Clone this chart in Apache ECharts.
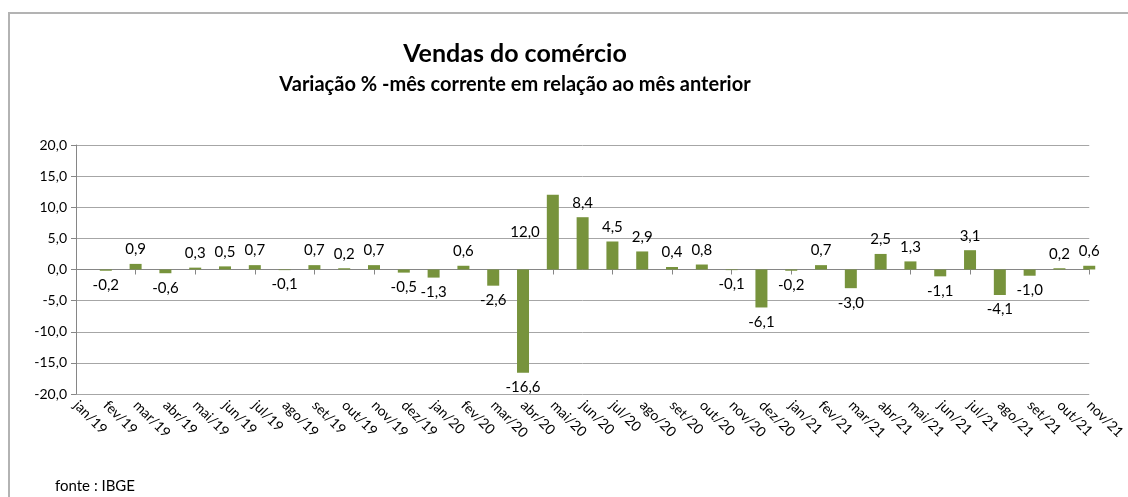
<!DOCTYPE html>
<html>
<head>
<meta charset="utf-8">
<script src="https://cdn.jsdelivr.net/npm/echarts@6/dist/echarts.min.js"></script>
<style>
  html, body { margin: 0; padding: 0; background: #fff; }
  #chart { width: 1128px; height: 497px; }
</style>
</head>
<body>
<div id="chart"></div>
<script>
// months on the x axis
const categories = [
  'jan/19', 'fev/19', 'mar/19', 'abr/19', 'mai/19', 'jun/19', 'jul/19', 'ago/19', 'set/19', 'out/19', 'nov/19', 'dez/19',
  'jan/20', 'fev/20', 'mar/20', 'abr/20', 'mai/20', 'jun/20', 'jul/20', 'ago/20', 'set/20', 'out/20', 'nov/20', 'dez/20',
  'jan/21', 'fev/21', 'mar/21', 'abr/21', 'mai/21', 'jun/21', 'jul/21', 'ago/21', 'set/21', 'out/21', 'nov/21'
]

// % change vs previous month (jan/19 not shown in the source)
const variacao = [
  null, -0.2, 0.9, -0.6, 0.3, 0.5, 0.7, -0.1, 0.7, 0.2, 0.7, -0.5,
  -1.3, 0.6, -2.6, -16.6, 12.0, 8.4, 4.5, 2.9, 0.4, 0.8, -0.1, -6.1,
  -0.2, 0.7, -3.0, 2.5, 1.3, -1.1, 3.1, -4.1, -1.0, 0.2, 0.6
]

// y axis range
const yMin = -20
const yMax = 20
const yStep = 5

const FONT = 'Lato, "Open Sans", sans-serif'
const fmt = (v) => v.toFixed(1).replace('.', ',')

const chart = echarts.init(document.getElementById('chart'))

const barData = variacao.map((v, i) => {
  if (v === null) return '-'
  let pos = v < 0 ? 'bottom' : 'top'
  // the big May/20 label sits beside the bar in the original
  if (categories[i] === 'mai/20') pos = 'left'
  return { value: v, label: { position: pos } }
})

const option = {
  animation: false,
  backgroundColor: '#fff',
  textStyle: { fontFamily: FONT },
  title: [
    {
      text: 'Vendas do comércio',
      left: 510,
      top: 36,
      textAlign: 'center',
      textStyle: { fontSize: 25, fontWeight: 'bold', color: '#000', fontFamily: FONT },
    },
    {
      text: 'Variação % -mês corrente em relação ao mês anterior',
      left: 510,
      top: 70,
      textAlign: 'center',
      textStyle: { fontSize: 20, fontWeight: 'bold', color: '#000', fontFamily: FONT },
    },
    {
      text: 'fonte : IBGE',
      left: 50,
      top: 474,
      textStyle: { fontSize: 15, fontWeight: 'normal', color: '#000', fontFamily: FONT },
    },
  ],
  graphic: [
    {
      type: 'polyline',
      silent: true,
      shape: { points: [[9, 497], [9, 13], [1128, 13]] },
      style: { stroke: '#b3b3b3', lineWidth: 2, fill: null },
    },
  ],
  grid: {
    left: 76,
    right: 31,
    top: 145,
    bottom: 103,
  },
  xAxis: [
    {
      type: 'category',
      data: categories,
      boundaryGap: false,
      position: 'bottom',
      axisLine: { onZero: true, lineStyle: { color: '#868686', width: 1 } },
      axisTick: { show: true, length: 5, lineStyle: { color: '#868686' } },
      axisLabel: { show: false },
      splitLine: { show: false },
    },
    {
      type: 'category',
      data: categories,
      boundaryGap: false,
      position: 'bottom',
      axisLine: { show: false },
      axisTick: { show: false },
      axisLabel: {
        interval: 0,
        rotate: -45,
        margin: 9,
        fontSize: 14,
        color: '#000',
        fontFamily: FONT,
      },
      splitLine: { show: false },
    },
  ],
  yAxis: {
    type: 'value',
    min: yMin,
    max: yMax,
    interval: yStep,
    axisLine: { show: true, lineStyle: { color: '#868686' } },
    axisTick: { show: true, length: 5, lineStyle: { color: '#868686' } },
    axisLabel: {
      formatter: fmt,
      fontSize: 14,
      color: '#000',
      margin: 9,
      fontFamily: FONT,
    },
    splitLine: { lineStyle: { color: '#a6a6a6', width: 1 } },
  },
  series: [
    {
      type: 'bar',
      xAxisIndex: 0,
      data: barData,
      barWidth: 12,
      itemStyle: { color: '#77933C' },
      label: {
        show: true,
        distance: 7,
        fontSize: 15,
        color: '#000',
        fontFamily: FONT,
        formatter: (p) => fmt(p.value),
      },
    },
  ],
}

chart.setOption(option)
</script>
</body>
</html>
